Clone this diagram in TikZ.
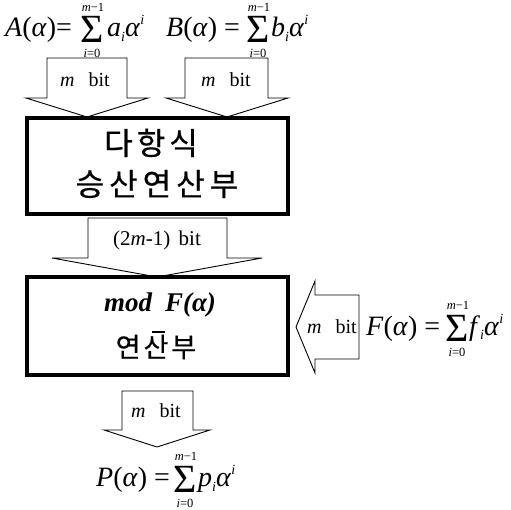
\documentclass[tikz,border=0pt]{standalone}
\usepackage{fontspec}
\setmainfont{Liberation Serif}
\newfontfamily\kr{Noto Sans CJK KR}[FakeBold=0.6]
\newcommand{\mbit}{\textit{m}\hspace{0.7em}bit}
\newcommand{\mysub}[1]{\raisebox{-5pt}{\fontsize{14}{14}\selectfont\textit{#1}}}
\newcommand{\mysup}[1]{\raisebox{12pt}{\fontsize{14}{14}\selectfont\textit{#1}}}
\tikzset{
 blockarrow/.style={draw=black, line width=0.9pt, fill=white, line join=miter},
 frame/.style={draw=black, line width=4pt, fill=white},
 bitlabel/.style={font=\fontsize{20}{20}\selectfont, inner sep=0pt},
 lhs/.style={font=\fontsize{28}{28}\selectfont, inner sep=0pt, anchor=base west},
 bigsig/.style={font=\fontsize{40}{40}\selectfont, inner sep=0pt},
 lim/.style={font=\fontsize{12.5}{12.5}\selectfont, inner sep=0pt},
 krtext/.style={font=\kr\fontsize{31}{31}\selectfont, inner sep=0pt},
}
\begin{document}
\begin{tikzpicture}[x=1pt,y=-1pt]
\useasboundingbox (0,0) rectangle (511,510);
% block arrows
\draw[blockarrow] (47,58) -- (127,58) -- (127,98) -- (148,98) -- (87,117) -- (26,98) -- (47,98) -- cycle;
\draw[blockarrow] (185,58) -- (268,58) -- (268,98) -- (288,98) -- (227,117) -- (166,98) -- (185,98) -- cycle;
\draw[blockarrow] (88,218) -- (227,218) -- (227,258) -- (262,258) -- (157,277) -- (52,258) -- (88,258) -- cycle;
\draw[blockarrow] (122,391) -- (193,391) -- (193,430) -- (210,430) -- (157,447) -- (104,430) -- (122,430) -- cycle;
\draw[blockarrow] (359,295) -- (359,359) -- (315,359) -- (315,373) -- (296,327) -- (315,281) -- (315,295) -- cycle;
% frames
\draw[frame] (27,118) rectangle (288,214);
\draw[frame] (27,277) rectangle (288,375);
% labels in arrows
\node[bitlabel] (la) at (85,80) {\mbit};
\node[bitlabel] (lb) at (226,80) {\mbit};
\node[bitlabel, font=\fontsize{21}{21}\selectfont] (lc) at (157,240) {(2\textit{m}-1)\hspace{0.4em}bit};
\node[bitlabel] (ld) at (332,327) {\mbit};
\node[bitlabel] (le) at (156,411) {\mbit};
% box texts
\node[krtext] (k1) at (151,143) {다\hspace{4pt}항\hspace{4pt}식};
\node[krtext] (k2) at (157,184) {승\hspace{5pt}산\hspace{5pt}연\hspace{5pt}산\hspace{5pt}부};
\node[font=\fontsize{27}{27}\selectfont\bfseries\itshape, inner sep=0pt, anchor=base] (modf) at (160,312) {mod\raisebox{-21pt}{\rule{13pt}{1.8pt}}F(α)};
\node[krtext, font=\kr\fontsize{27}{27}\selectfont] (k3) at (156,347) {연\hspace{3pt}산\hspace{3pt}부};
% formula A
\node[lhs] (Al) at (5,37) {\textit{A}(\textit{α})=};
\node[bigsig] (As) at (92,29) {Σ};
\node[lim] (Au) at (93,7) {\textit{m}−1};
\node[lim] (Ad) at (92,53) {\textit{i}=0};
\node[lhs] (Ar) at (107,37) {\textit{a}\mysub{i}\textit{α}\mysup{i}};
% formula B
\node[lhs] (Bl) at (166,37) {\textit{B}(\textit{α}) =};
\node[bigsig] (Bs) at (258,29) {Σ};
\node[lim] (Bu) at (259,7) {\textit{m}−1};
\node[lim] (Bd) at (258,53) {\textit{i}=0};
\node[lhs] (Br) at (271,37) {\textit{b}\mysub{i}\textit{α}\mysup{i}};
% formula F
\node[lhs] (Fl) at (366,335) {\textit{F}(\textit{α}) =};
\node[bigsig] (Fs) at (457,328) {Σ};
\node[lim] (Fu) at (458,305) {\textit{m}−1};
\node[lim] (Fd) at (457,352) {\textit{i}=0};
\node[lhs] (Fr) at (469,335) {\textit{f}\mysub{i}\textit{α}\mysup{i}};
% formula P
\node[lhs] (Pl) at (96,486) {\textit{P}(\textit{α}) =};
\node[bigsig] (Ps) at (185,479) {Σ};
\node[lim] (Pu) at (186,456) {\textit{m}−1};
\node[lim] (Pd) at (185,503) {\textit{i}=0};
\node[lhs] (Pr) at (198,486) {\textit{p}\mysub{i}\textit{α}\mysup{i}};
\end{tikzpicture}
\end{document}
